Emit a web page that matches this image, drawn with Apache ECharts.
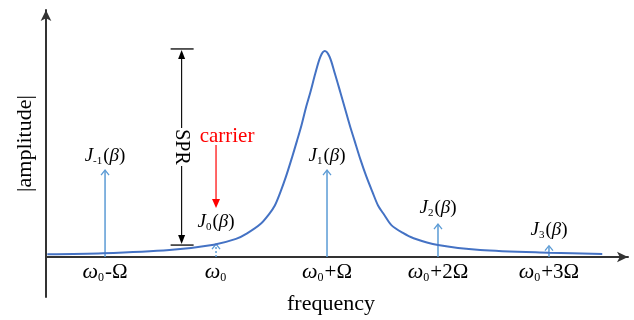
<!DOCTYPE html>
<html>
<head>
<meta charset="utf-8">
<script src="https://cdn.jsdelivr.net/npm/echarts@6/dist/echarts.min.js"></script>
<style>
  html, body { margin: 0; padding: 0; background: #fff; }
  #chart { width: 634px; height: 320px; }
</style>
</head>
<body>
<div id="chart"></div>
<script>
// tick positions (in units of Omega, relative to the carrier w0)
const tickValues = [-1, 0, 1, 2, 3];
const tickSuffix = ['-Ω', '', '+Ω', '+2Ω', '+3Ω'];

// resonance curve (peak normalised to 1)
const curveX = [-1.52, -1.02, -0.42, -0.02, 0.18, 0.28, 0.40, 0.48, 0.53, 0.58, 0.63, 0.68, 0.73, 0.77, 0.81, 0.85, 0.895, 0.94, 0.98,
                1.023, 1.07, 1.12, 1.16, 1.205, 1.248, 1.30, 1.355, 1.41, 1.46, 1.515, 1.58, 1.68, 1.78, 2.0, 2.38, 3.0, 3.48];
const curveY = [0.013, 0.018, 0.034, 0.060, 0.088, 0.115, 0.16, 0.21, 0.25, 0.315, 0.39, 0.475, 0.565, 0.64, 0.725, 0.80, 0.892, 0.972, 1.0,
                0.972, 0.892, 0.80, 0.725, 0.64, 0.565, 0.475, 0.39, 0.315, 0.25, 0.205, 0.155, 0.118, 0.091, 0.058, 0.034, 0.021, 0.015];

// Bessel sidebands J_n(beta)
const sidebandX = [-1, 0, 1, 2, 3];
const sidebandAmp = [0.422, 0.063, 0.422, 0.160, 0.055];
const sidebandOrder = ['-1', '0', '1', '2', '3'];

// SPR marker and carrier pointer
const sprX = -0.31;
const sprTop = 1.01;
const sprBottom = 0.058;
const carrierX = 0;
const carrierFrom = 0.544;
const carrierTo = 0.238;

const serif = '"Liberation Serif", "DejaVu Serif", serif';
const curveColor = '#4472c4';
const sideColor = '#5b9bd5';
const labelGap = [14, 22, 14, 16, 16];

const chart = echarts.init(document.getElementById('chart'));

const jRich = {
  j: { fontFamily: serif, fontStyle: 'italic', fontSize: 19, color: '#000' },
  s: { fontFamily: serif, fontSize: 11, color: '#000', padding: [10, 1, 0, 0] },
  p: { fontFamily: serif, fontSize: 19, color: '#000' },
  b: { fontFamily: serif, fontStyle: 'italic', fontSize: 19, color: '#000' }
};

function sidebandItem(params, api) {
  const i = params.dataIndex;
  const p0 = api.coord([api.value(0), 0]);
  const p1 = api.coord([api.value(0), api.value(1)]);
  const dotted = i === 1;
  const ls = { stroke: sideColor, lineWidth: 1.5, lineDash: dotted ? [2, 2] : null };
  return {
    type: 'group',
    children: [
      { type: 'line', shape: { x1: p0[0], y1: p0[1], x2: p1[0], y2: p1[1] + 1 }, style: ls },
      { type: 'polyline', shape: { points: [[p1[0] - 4, p1[1] + 5], [p1[0], p1[1]], [p1[0] + 4, p1[1] + 5]] },
        style: { stroke: sideColor, lineWidth: 1.3, fill: null } },
      { type: 'text', x: p1[0], y: p1[1] - labelGap[i],
        style: { text: '{j|J}{s|' + sidebandOrder[i] + '}{p|(}{b|β}{p|)}', rich: jRich,
                 align: 'center', verticalAlign: 'middle' } }
    ]
  };
}

function sprItem(params, api) {
  const top = api.coord([api.value(0), api.value(1)]);
  const bot = api.coord([api.value(0), api.value(2)]);
  const x = top[0];
  const mid = (top[1] + bot[1]) / 2;
  const half = 19;
  return {
    type: 'group',
    children: [
      { type: 'line', shape: { x1: x - 11, y1: top[1], x2: x + 12, y2: top[1] }, style: { stroke: '#333', lineWidth: 1.6 } },
      { type: 'line', shape: { x1: x - 11, y1: bot[1], x2: x + 12, y2: bot[1] }, style: { stroke: '#333', lineWidth: 1.6 } },
      { type: 'line', shape: { x1: x, y1: top[1] + 6, x2: x, y2: mid - half }, style: { stroke: '#000', lineWidth: 1.1 } },
      { type: 'line', shape: { x1: x, y1: mid + half, x2: x, y2: bot[1] - 6 }, style: { stroke: '#000', lineWidth: 1.1 } },
      { type: 'polygon', shape: { points: [[x, top[1] + 1], [x - 3.5, top[1] + 10], [x + 3.5, top[1] + 10]] }, style: { fill: '#000' } },
      { type: 'polygon', shape: { points: [[x, bot[1] - 1], [x - 3.5, bot[1] - 10], [x + 3.5, bot[1] - 10]] }, style: { fill: '#000' } },
      { type: 'text', x: x, y: mid, rotation: -Math.PI / 2,
        style: { text: 'SPR', fontFamily: serif, fontSize: 20, fill: '#000', align: 'center', verticalAlign: 'middle' } }
    ]
  };
}

function carrierItem(params, api) {
  const top = api.coord([api.value(0), api.value(1)]);
  const tip = api.coord([api.value(0), api.value(2)]);
  const x = top[0];
  return {
    type: 'group',
    children: [
      { type: 'line', shape: { x1: x, y1: top[1], x2: x, y2: tip[1] - 6 }, style: { stroke: '#ff0000', lineWidth: 1.2 } },
      { type: 'polygon', shape: { points: [[x, tip[1]], [x - 4, tip[1] - 9], [x + 4, tip[1] - 9]] }, style: { fill: '#ff0000' } },
      { type: 'text', x: x + 11, y: top[1] - 8,
        style: { text: 'carrier', fontFamily: serif, fontSize: 21, fill: '#ff0000', align: 'center', verticalAlign: 'middle' } }
    ]
  };
}

chart.setOption({
  backgroundColor: '#fff',
  animation: false,
  grid: { left: 46, right: 6, top: 10, bottom: 23, containLabel: false, outerBoundsMode: 'none' },
  xAxis: {
    type: 'value',
    min: -1.532,
    max: 3.712,
    name: 'frequency',
    nameLocation: 'middle',
    nameGap: -4,
    nameTextStyle: { fontFamily: serif, fontSize: 22, color: '#000', padding: [0, 12, 0, 0] },
    axisLine: { onZero: true, symbol: ['none', 'arrow'], symbolSize: [8, 11], lineStyle: { color: '#333', width: 2 } },
    axisTick: { show: false },
    splitLine: { show: false },
    axisLabel: {
      customValues: tickValues,
      margin: -36,
      formatter: function (v) {
        const i = tickValues.indexOf(v);
        const suf = tickSuffix[i];
        return '{w|ω}{s|0}' + (suf ? '{t|' + suf + '}' : '');
      },
      rich: {
        w: { fontFamily: serif, fontStyle: 'italic', fontSize: 22, color: '#000' },
        s: { fontFamily: serif, fontSize: 12, color: '#000', padding: [11, 1, 0, 0] },
        t: { fontFamily: serif, fontSize: 21, color: '#000' }
      }
    }
  },
  yAxis: {
    type: 'value',
    min: -0.194,
    max: 1.199,
    name: '|amplitude|',
    nameLocation: 'middle',
    nameRotate: 90,
    nameGap: 10,
    nameTextStyle: { fontFamily: serif, fontSize: 22, color: '#000', padding: [0, 0, 0, 20] },
    axisLine: { onZero: false, symbol: ['none', 'arrow'], symbolSize: [8, 11], lineStyle: { color: '#333', width: 2 } },
    axisTick: { show: false },
    axisLabel: { show: false },
    splitLine: { show: false }
  },
  series: [
    {
      type: 'custom',
      name: 'sidebands',
      renderItem: sidebandItem,
      data: sidebandX.map((x, i) => [x, sidebandAmp[i]]),
      z: 2
    },
    {
      type: 'line',
      name: 'resonance',
      data: curveX.map((x, i) => [x, curveY[i]]),
      smooth: 0.3,
      showSymbol: false,
      lineStyle: { color: curveColor, width: 2 },
      z: 3
    },
    {
      type: 'custom',
      name: 'SPR',
      renderItem: sprItem,
      data: [[sprX, sprTop, sprBottom]],
      z: 4
    },
    {
      type: 'custom',
      name: 'carrier',
      renderItem: carrierItem,
      data: [[carrierX, carrierFrom, carrierTo]],
      z: 4
    }
  ]
});
</script>
</body>
</html>
